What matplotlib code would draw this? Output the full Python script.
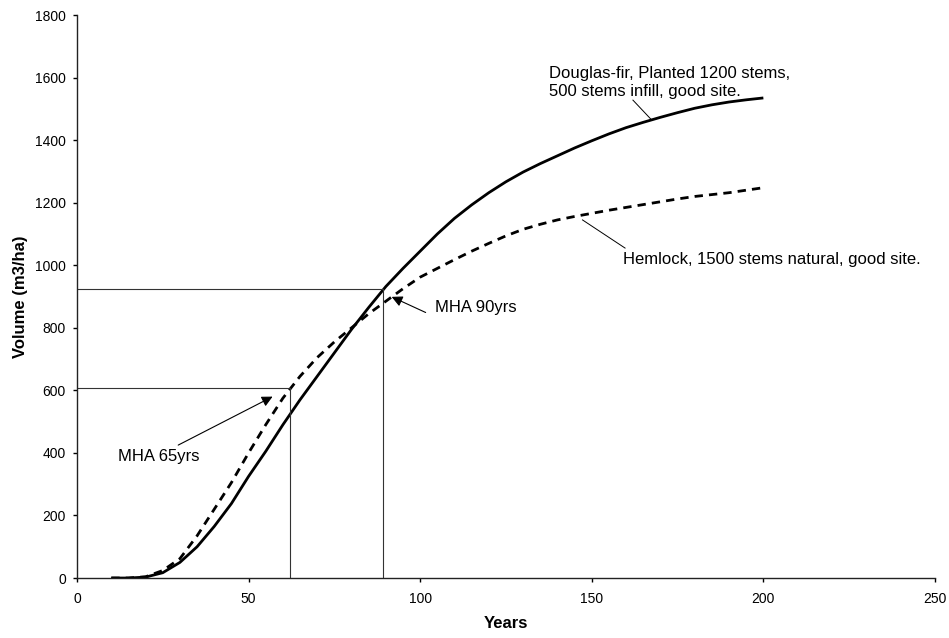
import matplotlib.pyplot as plt

plt.rcParams['font.family'] = ['Liberation Sans', 'DejaVu Sans']

# Stand age (years) and yield volume (m3/ha)
years = [10, 15, 20, 25, 30, 35, 40, 45, 50, 55, 60, 65, 70, 75, 80, 85, 90, 95,
         100, 105, 110, 115, 120, 125, 130, 135, 140, 145, 150, 155, 160, 165,
         170, 175, 180, 185, 190, 195, 200]
douglas_fir = [0, 0, 3, 17, 50, 100, 165, 238, 325, 405, 490, 570, 645, 720, 795,
               865, 932, 990, 1045, 1100, 1150, 1193, 1232, 1267, 1298, 1325, 1350,
               1375, 1398, 1420, 1440, 1457, 1473, 1488, 1502, 1513, 1522, 1529, 1535]
hemlock = [0, 0, 4, 24, 62, 135, 220, 305, 400, 490, 575, 645, 705, 755, 800, 845,
           885, 925, 962, 990, 1018, 1045, 1070, 1094, 1115, 1131, 1145, 1156, 1166,
           1176, 1185, 1194, 1203, 1212, 1220, 1226, 1232, 1240, 1248]

# maximum mean annual increment markers (age, volume)
mha_hemlock = (62.2, 606)
mha_douglas = (89.1, 924)

fig = plt.figure(figsize=(9.49, 6.38), dpi=100)
ax = fig.add_axes([0.0811, 0.094, 0.9041, 0.8824])

ax.plot(years, douglas_fir, color='black', lw=2.0, solid_capstyle='butt',
        solid_joinstyle='round')
ax.plot(years, hemlock, color='black', lw=2.0, linestyle=(0, (3, 2.2)))

# drop lines to the axes at the MHA ages
for age, vol in [mha_hemlock, mha_douglas]:
    ax.plot([0, age], [vol, vol], color='#333333', lw=0.8)
    ax.plot([age, age], [0, vol], color='#333333', lw=0.8)

arrow = dict(arrowstyle='-|>', color='black', lw=0.8, mutation_scale=16,
             shrinkA=0, shrinkB=0)
ax.annotate('', xy=(57.0, 580), xytext=(29.5, 425), arrowprops=arrow)
ax.annotate('', xy=(91.7, 899), xytext=(101.6, 849), arrowprops=arrow)
ax.text(11.9, 390, 'MHA 65yrs', fontsize=12, ha='left', va='center')
ax.text(104.3, 866, 'MHA 90yrs', fontsize=12, ha='left', va='center')

ax.plot([162.0, 167.5], [1528, 1464], color='black', lw=0.7)
ax.text(137.6, 1584, 'Douglas-fir, Planted 1200 stems,\n500 stems infill, good site.',
        fontsize=12, ha='left', va='center', linespacing=1.25)
ax.plot([159.7, 147.3], [1055, 1145], color='black', lw=0.7)
ax.text(159.0, 1017, 'Hemlock, 1500 stems natural, good site.', fontsize=12,
        ha='left', va='center')

ax.set_xlim(0, 250)
ax.set_ylim(0, 1800)
ax.set_xticks([0, 50, 100, 150, 200, 250])
ax.set_yticks(range(0, 1801, 200))
ax.spines['top'].set_visible(False)
ax.spines['right'].set_visible(False)
for s in ['left', 'bottom']:
    ax.spines[s].set_color('#222222')
    ax.spines[s].set_linewidth(1.0)
ax.tick_params(axis='x', length=3, width=1, labelsize=10, pad=7)
ax.tick_params(axis='y', length=3, width=1, labelsize=10, pad=5)

ax.set_xlabel('Years', fontsize=12, fontweight='bold')
ax.set_ylabel('Volume (m3/ha)', fontsize=12, fontweight='bold')
ax.xaxis.label.set_va('center')
ax.yaxis.label.set_va('center')
ax.xaxis.set_label_coords(0.5, -0.08)
ax.yaxis.set_label_coords(-0.066, 0.5)

fig.savefig('out.png', dpi=100)
